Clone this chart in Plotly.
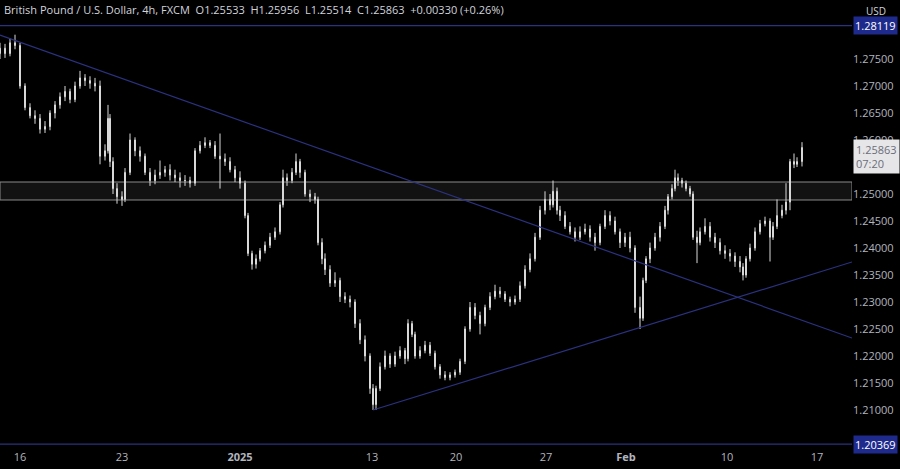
import plotly.graph_objects as go

bar_pos = [0,5,10,15,20,25,30,35,40,45,50,55,60,65,70,75,80,85,90,95,
100,105,108,110,113,117,122,125,130,135,140,145,150,155,160,165,170,175,180,185,
190,195,200,205,210,215,220,225,230,235,240,245,248,252,256,260,265,270,275,280,
283,287,292,296,300,305,310,315,318,322,325,330,335,340,345,350,355,360,365,370,
373,376,380,385,390,395,400,405,408,412,415,420,425,430,435,440,445,450,455,460,
465,470,475,480,485,490,495,500,505,510,515,520,525,530,535,540,545,550,553,557,
560,565,570,575,580,585,590,595,600,605,610,615,620,625,630,635,640,643,646,650,
655,660,665,668,672,675,678,682,686,690,693,697,700,705,710,715,720,725,730,735,
740,743,746,750,755,760,765,770,773,777,782,786,790,794,797,802]

closes = [1.2770,1.2760,1.2780,1.2775,1.2700,1.2660,1.2645,1.2640,1.2620,1.2625,
1.2650,1.2665,1.2680,1.2690,1.2675,1.2700,1.2715,1.2710,1.2705,1.2700,
1.2570,1.2580,1.2640,1.2560,1.2510,1.2495,1.2490,1.2540,1.2600,1.2580,
1.2570,1.2540,1.2525,1.2535,1.2540,1.2545,1.2535,1.2530,1.2525,1.2525,
1.2520,1.2580,1.2590,1.2595,1.2590,1.2570,1.2565,1.2560,1.2545,1.2530,
1.2520,1.2460,1.2390,1.2370,1.2380,1.2395,1.2405,1.2420,1.2430,1.2480,
1.2530,1.2525,1.2540,1.2560,1.2540,1.2500,1.2495,1.2490,1.2410,1.2380,
1.2360,1.2335,1.2340,1.2310,1.2305,1.2300,1.2260,1.2230,1.2200,1.2140,
1.2110,1.2140,1.2180,1.2200,1.2185,1.2200,1.2210,1.2195,1.2260,1.2240,
1.2200,1.2210,1.2220,1.2205,1.2180,1.2165,1.2160,1.2165,1.2170,1.2190,
1.2250,1.2290,1.2275,1.2260,1.2290,1.2310,1.2320,1.2315,1.2305,1.2300,
1.2305,1.2330,1.2360,1.2380,1.2420,1.2470,1.2490,1.2480,1.2505,1.2470,
1.2460,1.2440,1.2430,1.2420,1.2430,1.2435,1.2420,1.2410,1.2440,1.2460,
1.2450,1.2430,1.2410,1.2420,1.2400,1.2290,1.2270,1.2340,1.2380,1.2400,
1.2420,1.2440,1.2470,1.2495,1.2510,1.2530,1.2525,1.2520,1.2510,1.2500,
1.2420,1.2410,1.2430,1.2440,1.2420,1.2410,1.2395,1.2390,1.2385,1.2375,
1.2365,1.2350,1.2380,1.2400,1.2430,1.2445,1.2450,1.2420,1.2440,1.2460,
1.2470,1.2485,1.2560,1.2555,1.2560,1.2586]

highs = [1.2780,1.2778,1.2788,1.2795,1.2780,1.2705,1.2668,1.2655,1.2648,1.2635,
1.2655,1.2672,1.2688,1.2700,1.2695,1.2708,1.2728,1.2722,1.2718,1.2715,
1.2710,1.2592,1.2665,1.2648,1.2568,1.2520,1.2505,1.2548,1.2612,1.2605,
1.2588,1.2575,1.2548,1.2545,1.2562,1.2552,1.2555,1.2545,1.2540,1.2535,
1.2532,1.2585,1.2598,1.2605,1.2600,1.2598,1.2612,1.2575,1.2568,1.2552,
1.2542,1.2525,1.2465,1.2395,1.2388,1.2400,1.2412,1.2428,1.2438,1.2485,
1.2545,1.2538,1.2548,1.2575,1.2565,1.2545,1.2508,1.2502,1.2495,1.2418,
1.2390,1.2368,1.2355,1.2345,1.2318,1.2312,1.2305,1.2268,1.2238,1.2205,
1.2148,1.2145,1.2188,1.2210,1.2205,1.2208,1.2218,1.2215,1.2268,1.2265,
1.2245,1.2218,1.2228,1.2226,1.2210,1.2185,1.2172,1.2170,1.2175,1.2195,
1.2255,1.2300,1.2298,1.2282,1.2295,1.2318,1.2332,1.2328,1.2320,1.2310,
1.2312,1.2338,1.2368,1.2390,1.2428,1.2478,1.2505,1.2500,1.2525,1.2512,
1.2478,1.2468,1.2448,1.2438,1.2440,1.2445,1.2442,1.2428,1.2445,1.2470,
1.2468,1.2458,1.2436,1.2428,1.2430,1.2405,1.2310,1.2345,1.2385,1.2410,
1.2428,1.2448,1.2478,1.2500,1.2518,1.2545,1.2538,1.2530,1.2525,1.2515,
1.2505,1.2432,1.2438,1.2455,1.2448,1.2428,1.2418,1.2405,1.2398,1.2392,
1.2385,1.2372,1.2385,1.2408,1.2438,1.2452,1.2458,1.2455,1.2448,1.2490,
1.2480,1.2520,1.2565,1.2575,1.2568,1.2596]

lows = [1.2750,1.2752,1.2755,1.2768,1.2695,1.2655,1.2640,1.2630,1.2612,1.2613,
1.2618,1.2640,1.2658,1.2672,1.2668,1.2670,1.2695,1.2700,1.2695,1.2690,
1.2555,1.2562,1.2575,1.2550,1.2500,1.2482,1.2478,1.2485,1.2535,1.2570,
1.2560,1.2535,1.2515,1.2518,1.2528,1.2532,1.2525,1.2522,1.2512,1.2515,
1.2512,1.2515,1.2575,1.2585,1.2585,1.2565,1.2510,1.2552,1.2540,1.2522,
1.2510,1.2455,1.2385,1.2360,1.2362,1.2375,1.2390,1.2400,1.2415,1.2425,
1.2475,1.2515,1.2520,1.2535,1.2530,1.2495,1.2485,1.2482,1.2405,1.2370,
1.2350,1.2328,1.2328,1.2300,1.2298,1.2290,1.2252,1.2222,1.2190,1.2130,
1.2100,1.2100,1.2135,1.2175,1.2178,1.2180,1.2195,1.2185,1.2190,1.2235,
1.2195,1.2195,1.2205,1.2200,1.2175,1.2158,1.2155,1.2155,1.2160,1.2165,
1.2185,1.2245,1.2268,1.2240,1.2255,1.2285,1.2305,1.2308,1.2300,1.2292,
1.2295,1.2300,1.2325,1.2355,1.2375,1.2415,1.2462,1.2470,1.2475,1.2462,
1.2450,1.2435,1.2425,1.2412,1.2415,1.2425,1.2412,1.2395,1.2405,1.2435,
1.2442,1.2425,1.2400,1.2402,1.2392,1.2280,1.2250,1.2265,1.2335,1.2372,
1.2395,1.2412,1.2435,1.2462,1.2490,1.2505,1.2515,1.2512,1.2505,1.2495,
1.2415,1.2372,1.2405,1.2425,1.2412,1.2400,1.2388,1.2380,1.2375,1.2365,
1.2355,1.2340,1.2345,1.2375,1.2395,1.2425,1.2440,1.2375,1.2415,1.2435,
1.2455,1.2462,1.2470,1.2548,1.2550,1.2551]

first_open = 1.2760
opens = [first_open] + closes[:-1]

tick_pos = [20, 122, 240, 372, 456, 546, 626, 727, 817]
tick_text = ["16", "23", "<b>2025</b>", "13", "20", "27", "<b>Feb</b>", "10", "17"]

level_top = 1.28119
level_bottom = 1.20369
zone_hi = 1.25222
zone_lo = 1.24889
down_trend = [(0, 1.27944), (852, 1.22333)]
up_trend = [(373, 1.2100), (852, 1.23741)]
last_price = 1.25863

X_END = 852
LINE = "#2b3280"

fig = go.Figure()
fig.add_trace(go.Candlestick(
    x=bar_pos, open=opens, high=highs, low=lows, close=closes,
    increasing=dict(line=dict(color="#d9d9d9", width=1), fillcolor="#d9d9d9"),
    decreasing=dict(line=dict(color="#d9d9d9", width=1), fillcolor="#d9d9d9"),
    whiskerwidth=0, hoverinfo="skip", showlegend=False))

for (x0, y0), (x1, y1) in [down_trend, up_trend]:
    fig.add_shape(type="line", x0=x0, y0=y0, x1=x1, y1=y1, xref="x", yref="y",
                  line=dict(color=LINE, width=1.2))
for lv in (level_top, level_bottom):
    fig.add_shape(type="line", x0=0, x1=X_END, y0=lv, y1=lv, xref="x", yref="y",
                  line=dict(color=LINE, width=1.2))
fig.add_shape(type="rect", x0=0, x1=X_END, y0=zone_lo, y1=zone_hi, xref="x", yref="y",
              fillcolor="rgba(255,255,255,0.07)", line=dict(color="#8a8a8a", width=1), layer="below")

y_top = 1.275 + 59 / 5400
y_bot = 1.275 - 390 / 5400
ticks = [round(1.21 + 0.005 * i, 3) for i in range(14)]

fig.update_layout(
    width=900, height=469, paper_bgcolor="#000000", plot_bgcolor="#000000",
    margin=dict(l=0, r=48, t=0, b=20, autoexpand=False),
    font=dict(family="Open Sans, DejaVu Sans", color="#b2b5be", size=11),
    xaxis=dict(range=[0, X_END], showgrid=False, zeroline=False, automargin=False,
               rangeslider=dict(visible=False), tickvals=tick_pos, ticktext=tick_text,
               ticks="", tickfont=dict(size=11, color="#b2b5be"), showline=False),
    yaxis=dict(range=[y_bot, y_top], side="right", showgrid=False, zeroline=False, automargin=False,
               tickvals=ticks, ticktext=[f"{t:.5f}" for t in ticks], ticks="",
               tickfont=dict(size=11, color="#b2b5be")),
)

ann = [
    dict(x=0.0, y=1.0, xref="paper", yref="paper", xanchor="left", yanchor="top", showarrow=False,
         text="British Pound / U.S. Dollar, 4h, FXCM  O1.25533  H1.25956  L1.25514  C1.25863  +0.00330 (+0.26%)",
         font=dict(size=11, color="#d1d4dc"), xshift=2),
    dict(x=1.0, y=1.0, xref="paper", yref="paper", xanchor="left", yanchor="top", showarrow=False,
         text="USD", font=dict(size=10, color="#d1d4dc"), xshift=12, yshift=-2),
    dict(x=1.0, y=level_top, xref="paper", yref="y", xanchor="left", showarrow=False,
         text="1.28119", bgcolor="#1f2b8c", font=dict(size=11, color="#ffffff"), borderpad=1, xshift=1),
    dict(x=1.0, y=level_bottom, xref="paper", yref="y", xanchor="left", showarrow=False,
         text="1.20369", bgcolor="#1f2b8c", font=dict(size=11, color="#ffffff"), borderpad=1, xshift=1),
    dict(x=1.0, y=last_price, xref="paper", yref="y", xanchor="left", yanchor="top", showarrow=False,
         text="1.25863<br>07:20", align="left", bgcolor="#e6e6e8", font=dict(size=11, color="#6a6d78"),
         borderpad=2, yshift=8, xshift=1),
]
fig.update_layout(annotations=ann)
fig.write_html("out.html", config={"displayModeBar": False},
               post_script="document.body.style.margin='0';document.body.style.overflow='hidden';document.body.style.background='#000';")
